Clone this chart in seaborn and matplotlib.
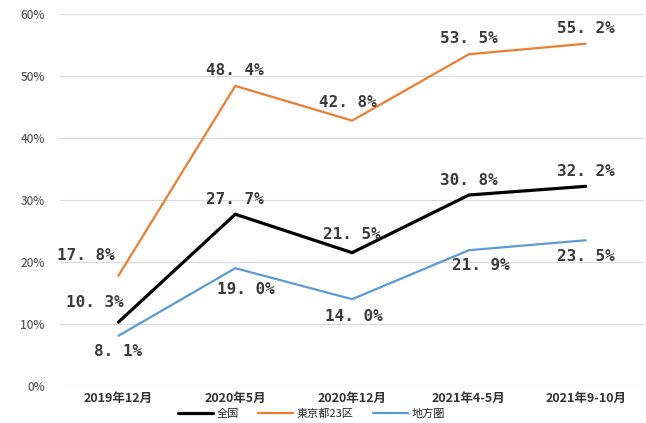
import numpy as np
import pandas as pd
import matplotlib
matplotlib.use("Agg")
import matplotlib.pyplot as plt
import seaborn as sns

# chart data
periods = ["2019年12月", "2020年5月", "2020年12月", "2021年4-5月", "2021年9-10月"]
series_names = ["全国", "東京都23区", "地方圏"]
national = [10.3, 27.7, 21.5, 30.8, 32.2]
tokyo = [17.8, 48.4, 42.8, 53.5, 55.2]
regional = [8.1, 19.0, 14.0, 21.9, 23.5]
y_ticks = [0, 10, 20, 30, 40, 50, 60]

sns.set_theme(style="white")
plt.rcParams["font.family"] = ["Noto Sans CJK JP", "DejaVu Sans"]

df = pd.DataFrame({
    "pos": list(range(len(periods))) * 3,
    "value": national + tokyo + regional,
    "series": np.repeat(series_names, len(periods)),
})

colors = {"全国": "#000000", "東京都23区": "#ED7D31", "地方圏": "#5B9BD5"}
widths = {"全国": 2.3, "東京都23区": 1.6, "地方圏": 1.6}
# label offsets in pixels (dx, dy up)
offsets = {
    "全国": [(-24, 20), (0, 15), (0, 18), (0, 15), (0, 15)],
    "東京都23区": [(-33, 20), (0, 15), (-4, 18), (0, 16), (0, 15)],
    "地方圏": [(0, -16), (11, -21), (2, -17), (12, -15), (0, -16)],
}

fig = plt.figure(figsize=(6.46, 4.23), dpi=100)
ax = fig.add_axes([0.093, 0.0875, 0.904, 0.8795])

for name in series_names:
    sub = df[df["series"] == name]
    sns.lineplot(data=sub, x="pos", y="value", color=colors[name],
                 linewidth=widths[name], ax=ax, label=name, sort=False)
    for (x, v), (dx, dy) in zip(zip(sub["pos"], sub["value"]), offsets[name]):
        ax.annotate(f"{v:.1f}%".replace(".", ". "), (x, v),
                    xytext=(dx * 0.72, dy * 0.72), textcoords="offset points",
                    ha="center", va="center", fontsize=11.5, fontweight="bold",
                    family="DejaVu Sans Mono", color="#3a3a3a")

ax.set_xlim(-0.5, len(periods) - 0.5)
ax.set_ylim(0, 60)
ax.set_yticks(y_ticks)
ax.set_yticklabels([f"{t}%" for t in y_ticks], fontsize=8.5, color="#595959",
                   fontweight="medium")
ax.set_xticks(range(len(periods)))
ax.set_xticklabels(periods, fontsize=9, color="#333333", fontweight="bold")
ax.tick_params(axis="y", length=0, pad=11)
ax.tick_params(axis="x", length=0, pad=4)
ax.grid(axis="y", color="#d9d9d9", linewidth=0.8)
ax.set_axisbelow(True)
for s in ax.spines.values():
    s.set_visible(False)
ax.set_xlabel("")
ax.set_ylabel("")

ax.legend(loc="lower center", bbox_to_anchor=(0.482, -0.015), bbox_transform=fig.transFigure,
          ncol=3, frameon=False, fontsize=8, handlelength=3.2, columnspacing=1.7,
          handletextpad=0.3)

fig.savefig("out.png", dpi=100)
